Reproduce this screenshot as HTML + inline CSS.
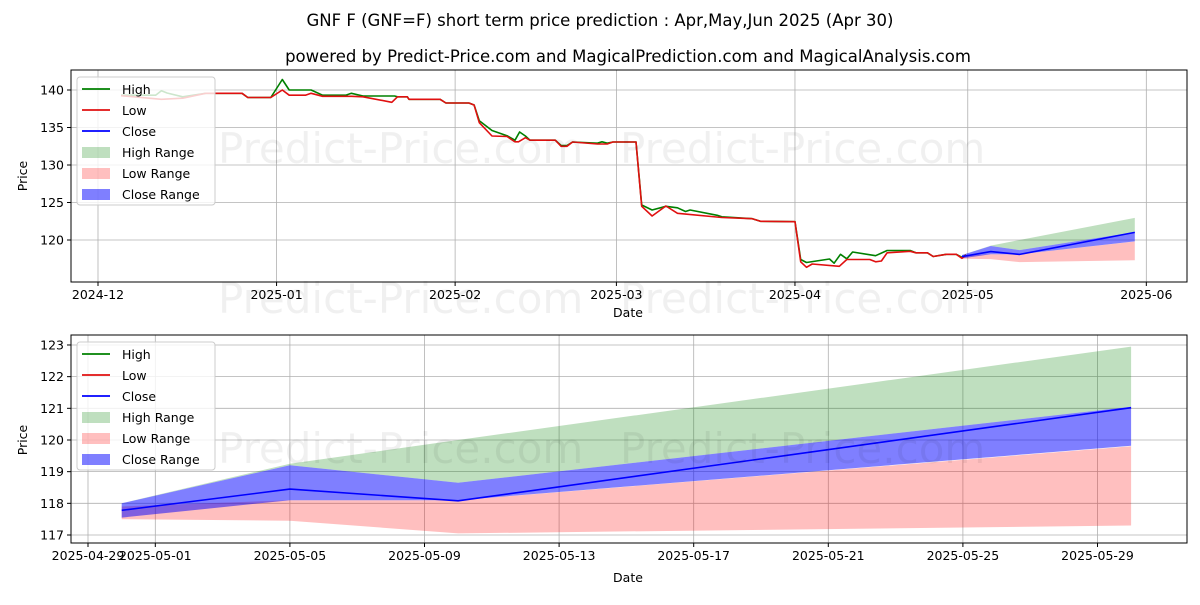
<!DOCTYPE html>
<html><head><meta charset="utf-8"><style>
body{margin:0;background:#fff;font-family:"Liberation Sans","DejaVu Sans",sans-serif}
svg text{font-family:"DejaVu Sans","Liberation Sans",sans-serif}
</style></head><body>
<svg id="c" width="1200" height="600" xmlns="http://www.w3.org/2000/svg"></svg>
<script>
// ---- history data (days since 2024-12-01) ----
const lowDays=[4,11,14.7,18.7,25,26,30,32,33.2,36,37,39,44,46,51,52,53.7,54,59.4,60.4,64.4,65.3,66.2,68.4,71,72.4,73,74.2,75,79.4,80.4,81.4,82.4,86.7,88.4,89.4,93.4,94.4,96.2,98.6,100.6,108.3,113.6,115,121,122,123,124,128.7,130,134,135,136,137,141,142,144,145,147.3,149,150,150.7];
const lowVals=[139.24,138.76,138.9,139.56,139.56,139.0,139.0,140.0,139.3,139.3,139.56,139.16,139.16,139.1,138.36,139.1,139.1,138.76,138.76,138.27,138.27,138.0,135.64,133.87,133.8,133.1,133.1,133.64,133.3,133.3,132.5,132.5,133.07,132.8,132.8,133.07,133.07,124.5,123.2,124.53,123.56,123.0,122.84,122.5,122.44,117.1,116.36,116.8,116.5,117.4,117.4,117.1,117.2,118.3,118.5,118.3,118.3,117.8,118.1,118.1,117.56,118.0];
const highDays=[4,10,11,12,14.7,18.7,25,26,30,32,33.2,36,37,39,43,44,46,51.5,52,53.7,54,59.4,60.4,64.4,65.3,66.2,68.4,71,72.4,73.2,74.2,75,79.4,80.4,81.4,82.4,86.7,87.5,88.4,89.4,93.4,94.4,96.2,98.6,100.6,102,102.8,107.5,108.3,113.6,115,121,122,123,127,127.8,128.9,130,131,135,137,141,142,144,145,147.3,149,150,150.7];
const highVals=[139.3,139.3,139.9,139.6,139.1,139.56,139.56,139.0,139.0,141.4,140.0,140.0,140.0,139.3,139.3,139.56,139.2,139.2,139.1,139.1,138.76,138.76,138.27,138.27,138.0,135.9,134.6,133.9,133.3,134.4,133.87,133.3,133.3,132.6,132.6,133.07,132.9,133.1,132.9,133.07,133.07,124.67,124.0,124.5,124.3,123.8,124.0,123.3,123.1,122.84,122.5,122.44,117.4,117.0,117.47,116.9,118.1,117.5,118.4,117.9,118.6,118.6,118.3,118.3,117.8,118.1,118.1,117.7,118.0];
// ---- forecast data (days since 2025-04-29) ----
const fDays=[1,6,11,31];
const closeVals=[117.78,118.45,118.08,121.02];
const closeHi=[118.0,119.2,118.65,121.05];
const closeLo=[117.55,118.1,118.1,119.82];
const highHi=[118.0,119.25,120.0,122.95];
const lowHi=[117.9,118.1,118.1,119.8];
const lowLo=[117.5,117.45,117.05,117.3];
const topTicks=[120,125,130,135,140];
const topXTicks=[[0,'2024-12'],[31,'2025-01'],[62,'2025-02'],[90,'2025-03'],[121,'2025-04'],[151,'2025-05'],[182,'2025-06']];
const botTicks=[117,118,119,120,121,122,123];
const botXTicks=[[0,'2025-04-29'],[2,'2025-05-01'],[6,'2025-05-05'],[10,'2025-05-09'],[14,'2025-05-13'],[18,'2025-05-17'],[22,'2025-05-21'],[26,'2025-05-25'],[30,'2025-05-29']];

const S=document.getElementById('c');const NS='http://www.w3.org/2000/svg';
function mk(t,a,txt,p){const e=document.createElementNS(NS,t);for(const k in a)e.setAttribute(k,a[k]);if(txt!=null)e.textContent=txt;(p||S).appendChild(e);return e;}
const tx=d=>98+5.76*d, ty=v=>90+(140-v)*7.5;
const bx=d=>88+33.65*d, by=v=>535-(v-117)*31.67;
const T=149;

let e;
e=mk('text',{x:600,y:26,'text-anchor':'middle','font-size':16.5},'GNF F (GNF=F) short term price prediction : Apr,May,Jun 2025 (Apr 30)');


e=mk('text',{x:628,y:62,'text-anchor':'middle','font-size':16.5},'powered by Predict-Price.com and MagicalPrediction.com and MagicalAnalysis.com');



function watermark(x,y){const w=mk('text',{x:x,y:y,'font-size':42,fill:'#000','fill-opacity':0.06},'Predict-Price.com');

}

function panel(name){
 const g=mk('g',{});
 
 
 return g;
}
function poly(pts,fill,op,p,name){const d='M'+pts.map(q=>q[0].toFixed(1)+','+q[1].toFixed(1)).join('L')+'Z';const el=mk('path',{d:d,fill:fill,'fill-opacity':op},null,p);

return el;}
function line(pts,col,p,name){const el=mk('polyline',{points:pts.map(q=>q[0].toFixed(1)+','+q[1].toFixed(1)).join(' '),fill:'none',stroke:col,'stroke-width':1.6,'stroke-linejoin':'round'},null,p);

return el;}
function band(xs,lo,hi,X,Y){const a=xs.map((d,i)=>[X(d),Y(hi[i])]);const b=xs.map((d,i)=>[X(d),Y(lo[i])]).reverse();return a.concat(b);}

// ---------- TOP PANEL ----------
const g1=panel('top-price-panel');
watermark(218,163);watermark(620,163);watermark(218,313);watermark(620,313);
topTicks.forEach(v=>{const l=mk('line',{x1:71,x2:1187,y1:ty(v),y2:ty(v),stroke:'#b0b0b0','stroke-width':0.8},null,g1);


mk('line',{x1:67,x2:71,y1:ty(v),y2:ty(v),stroke:'#000'},null,g1);
const t=mk('text',{x:64,y:ty(v)+4.5,'text-anchor':'end','font-size':12.5},String(v),g1);

});
topXTicks.forEach(([d,s])=>{const l=mk('line',{x1:tx(d),x2:tx(d),y1:70,y2:282,stroke:'#b0b0b0','stroke-width':0.8},null,g1);


mk('line',{x1:tx(d),x2:tx(d),y1:282,y2:286,stroke:'#000'},null,g1);
const t=mk('text',{x:tx(d),y:299,'text-anchor':'middle','font-size':12.5},s,g1);

});
const fd1=fDays.map(d=>d+T);
poly(band(fd1,closeHi,highHi,tx,ty),'green',0.25,g1,'high-range-band');
poly(band(fd1,lowLo,lowHi,tx,ty),'red',0.25,g1,'low-range-band');
poly(band(fd1,closeLo,closeHi,tx,ty),'blue',0.5,g1,'close-range-band');
line(highDays.map((d,i)=>[tx(d),ty(highVals[i])]),'green',g1,'high-line');
line(lowDays.map((d,i)=>[tx(d),ty(lowVals[i])]),'#e01010',g1,'low-line');
line(fd1.map((d,i)=>[tx(d),ty(closeVals[i])]),'blue',g1,'close-line');
e=mk('rect',{x:71,y:70,width:1116,height:212,fill:'none',stroke:'#000','stroke-width':1},null,g1);


e=mk('text',{x:628,y:317,'text-anchor':'middle','font-size':12.5},'Date',g1);


e=mk('text',{x:27,y:176,'text-anchor':'middle','font-size':12.5,transform:'rotate(-90 27 176)'},'Price',g1);



// ---------- BOTTOM PANEL ----------
const g2=panel('bottom-forecast-panel');
watermark(218,463);watermark(620,463);
botTicks.forEach(v=>{const l=mk('line',{x1:71,x2:1187,y1:by(v),y2:by(v),stroke:'#b0b0b0','stroke-width':0.8},null,g2);


mk('line',{x1:67,x2:71,y1:by(v),y2:by(v),stroke:'#000'},null,g2);
const t=mk('text',{x:64,y:by(v)+4.5,'text-anchor':'end','font-size':12.5},String(v),g2);

});
botXTicks.forEach(([d,s])=>{const l=mk('line',{x1:bx(d),x2:bx(d),y1:335,y2:543,stroke:'#b0b0b0','stroke-width':0.8},null,g2);


mk('line',{x1:bx(d),x2:bx(d),y1:543,y2:547,stroke:'#000'},null,g2);
const t=mk('text',{x:bx(d),y:560,'text-anchor':'middle','font-size':12.5},s,g2);

});
poly(band(fDays,closeHi,highHi,bx,by),'green',0.25,g2,'high-range-band');
poly(band(fDays,lowLo,lowHi,bx,by),'red',0.25,g2,'low-range-band');
poly(band(fDays,closeLo,closeHi,bx,by),'blue',0.5,g2,'close-range-band');
line(fDays.map((d,i)=>[bx(d),by(closeVals[i])]),'blue',g2,'close-line');
e=mk('rect',{x:71,y:335,width:1116,height:208,fill:'none',stroke:'#000','stroke-width':1},null,g2);


e=mk('text',{x:628,y:582,'text-anchor':'middle','font-size':12.5},'Date',g2);


e=mk('text',{x:27,y:440,'text-anchor':'middle','font-size':12.5,transform:'rotate(-90 27 440)'},'Price',g2);



// ---------- LEGENDS ----------
function legend(x,y,name){
 const g=mk('g',{});
 
 
 mk('rect',{x:x,y:y,width:138,height:128,rx:3,fill:'#fff','fill-opacity':0.8,stroke:'#ccc'},null,g);
 const items=[['High','line','green',1],['Low','line','#e01010',1],['Close','line','blue',1],['High Range','box','green',0.25],['Low Range','box','red',0.25],['Close Range','box','blue',0.5]];
 items.forEach((it,i)=>{const yy=y+12+i*21;
  if(it[1]=='line')mk('line',{x1:x+5,x2:x+33,y1:yy,y2:yy,stroke:it[2],'stroke-width':1.8},null,g);
  else mk('rect',{x:x+5,y:yy-5,width:28,height:11,fill:it[2],'fill-opacity':it[3]},null,g);
  const t=mk('text',{x:x+45,y:yy+5,'font-size':12.5},it[0],g);
  
  });
}
legend(77,77,'top-legend');
legend(77,342,'bottom-legend');
</script>
</body></html>
